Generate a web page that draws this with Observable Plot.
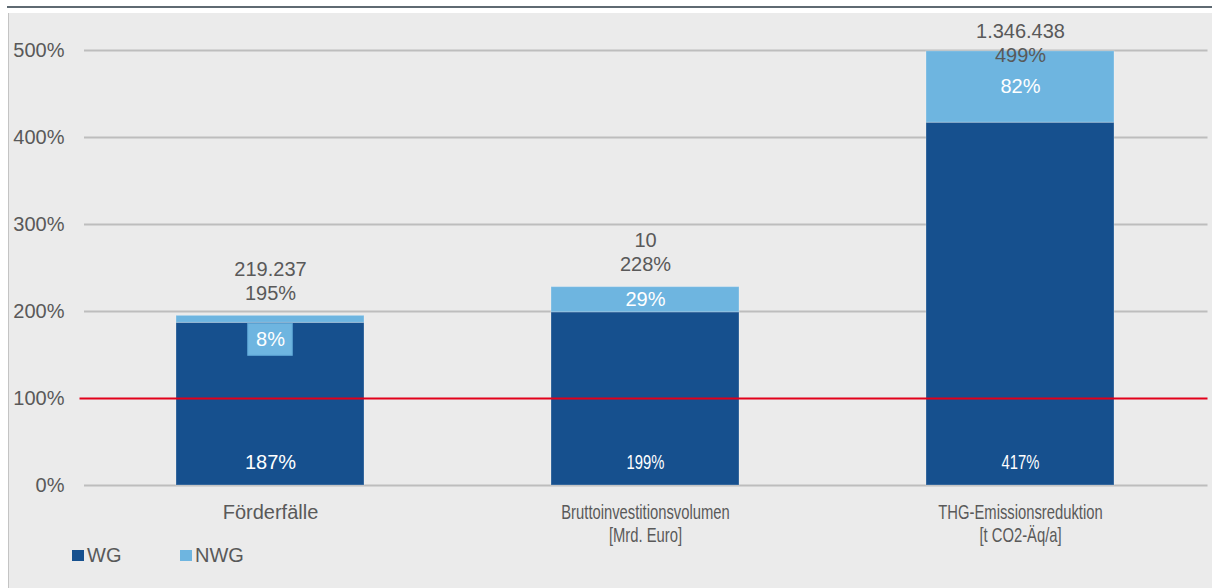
<!DOCTYPE html>
<html>
<head>
<meta charset="utf-8">
<script src="https://cdn.jsdelivr.net/npm/d3@7"></script>
<script src="https://cdn.jsdelivr.net/npm/@observablehq/plot@0.6"></script>
<style>
  html, body { margin: 0; padding: 0; background: #ffffff; }
  body { width: 1212px; height: 588px; position: relative; overflow: hidden;
         font-family: "Liberation Sans", Arial, sans-serif; }
  #rule { position: absolute; left: 7px; top: 6px; width: 1205px; height: 2px; background: #5f6a72; }
  #panel { position: absolute; left: 8px; top: 13px; width: 1204px; height: 575px;
           background: #ebebeb; border-left: 1px solid #c4c4c4; box-sizing: border-box; }
  #chart svg { display: block; }
  .key { position: absolute; top: 531px; height: 22px; display: flex; align-items: center;
         font-size: 20px; color: #595959; }
  .swatch { width: 12px; height: 11px; margin-right: 3px; }
</style>
</head>
<body>
<div id="rule"></div>
<div id="panel">
  <div id="chart"></div>
  <div id="legend"></div>
</div>
<script>
// Categories (multi-line labels use "\n")
const categories = ["Förderfälle", "Bruttoinvestitionsvolumen\n[Mrd. Euro]", "THG-Emissionsreduktion\n[t CO2-Äq/a]"];
// Share of target reached, in percent
const wgShare = [187, 199, 417];
const nwgShare = [8, 29, 82];
const totalShare = [195, 228, 499];
// Absolute totals printed above each column
const absoluteTotals = ["219.237", "10", "1.346.438"];
const series = ["WG", "NWG"];
const yTicks = [0, 100, 200, 300, 400, 500];
const targetLine = [100];

const colors = ["#16508e", "#6eb5e0"];
const textColor = "#595959";
const normalFont = "'Liberation Sans', Arial, sans-serif";
// Marker family for labels that get horizontally condensed after rendering
const condensedFont = "'Liberation Sans', Arial, sans-serif, condensed";
const condenseFactor = 0.74;

const rows = categories.map((c, i) => ({
  category: c, wg: wgShare[i], nwg: nwgShare[i], total: totalShare[i], abs: absoluteTotals[i]
}));
const stacked = categories.flatMap((c, i) => [
  {category: c, series: "WG", value: wgShare[i]},
  {category: c, series: "NWG", value: nwgShare[i]}
]);

const width = 1203, height = 530;
const margin = {top: 37, right: 4.5, bottom: 58, left: 73.5};
const yDomain = [0, 500];
const y = Plot.scale({y: {domain: yDomain, range: [height - margin.bottom, margin.top]}});

// Keep the two-line total label inside the chart area
const totalCap = y.invert(margin.top + 27.5);
// NWG labels that do not fit their segment go below it in a box
const fits = d => y.apply(d.wg) - y.apply(d.wg + d.nwg) >= 24;
const fitted = rows.filter(fits);
const boxed = rows.filter(d => !fits(d));
const wideCols = new Set(categories.slice(1));

const chart = Plot.plot({
  width, height,
  marginTop: margin.top, marginRight: margin.right, marginBottom: margin.bottom, marginLeft: margin.left,
  style: {background: "transparent", color: textColor, fontFamily: normalFont, fontSize: "20px", overflow: "visible"},
  x: {domain: categories, paddingInner: 0.5, paddingOuter: 0.25, axis: null},
  y: {domain: yDomain, axis: null},
  color: {domain: series, range: colors},
  marks: [
    Plot.ruleY(yTicks.filter(t => !targetLine.includes(t)), {stroke: "#bdbdbd", strokeWidth: 2, insetLeft: 1.5}),
    Plot.axisY(yTicks, {tickSize: 0, tickPadding: 18.5, tickFormat: d => d + "%", fontSize: 20, fill: textColor}),
    Plot.barY(stacked, {x: "category", y: "value", fill: "series", order: series,
                        stroke: "#ffffff", strokeOpacity: 0.25, strokeWidth: 1}),
    Plot.ruleY(targetLine, {stroke: "#e2001a", strokeWidth: 2, insetLeft: -3}),
    // WG share inside the dark segment
    Plot.text(rows.filter(d => !wideCols.has(d.category)), {x: "category", y: 0, dy: -23,
      text: d => d.wg + "%", fill: "white", fontSize: 20}),
    Plot.text(rows.filter(d => wideCols.has(d.category)), {x: "category", y: 0, dy: -23,
      text: d => d.wg + "%", fill: "white", fontSize: 20, fontFamily: condensedFont}),
    // NWG share
    Plot.text(fitted, {x: "category", y: d => d.wg + d.nwg / 2,
      text: d => d.nwg + "%", fill: "white", fontSize: 20}),
    Plot.barY(boxed, {x: "category", y1: "wg", y2: "wg", fill: colors[1], stroke: "#5ea6d6", strokeWidth: 1,
      insetLeft: 71.75, insetRight: 71.75, insetTop: 1, insetBottom: -33}),
    Plot.text(boxed, {x: "category", y: "wg", dy: 17,
      text: d => d.nwg + "%", fill: "white", fontSize: 20}),
    // Absolute total and total share above each column
    Plot.text(rows, {x: "category", y: d => Math.min(d.total, totalCap), dy: -35.5, lineAnchor: "middle",
      lineHeight: 1.2, text: d => `${d.abs}\n${d.total}%`, fill: textColor, fontSize: 20}),
    // Category labels
    Plot.text(categories.filter(c => !wideCols.has(c)), {x: d => d, frameAnchor: "bottom", lineAnchor: "top",
      dy: 17, lineHeight: 1.15, text: d => d, fill: textColor, fontSize: 20}),
    Plot.text(categories.filter(c => wideCols.has(c)), {x: d => d, frameAnchor: "bottom", lineAnchor: "top",
      dy: 17, lineHeight: 1.15, text: d => d, fill: textColor, fontSize: 20, fontFamily: condensedFont})
  ]
});
document.getElementById("chart").append(chart);

// Condense the long labels horizontally around their own anchor
chart.querySelectorAll('g[font-family*="condensed"] text').forEach(t => {
  const tr = t.getAttribute("transform");
  if (tr) {
    t.setAttribute("transform", `${tr} scale(${condenseFactor},1)`);
  } else {
    const x = +t.getAttribute("x") || 0;
    t.setAttribute("transform", `translate(${x},0) scale(${condenseFactor},1) translate(${-x},0)`);
  }
});

// Legend below the chart
const legend = document.getElementById("legend");
const legendLeft = [63, 171];
series.forEach((s, i) => {
  const item = document.createElement("div");
  item.className = "key";
  item.style.left = legendLeft[i] + "px";
  const sw = document.createElement("span");
  sw.className = "swatch";
  sw.style.background = colors[i];
  item.append(sw, document.createTextNode(s));
  legend.append(item);
});
</script>
</body>
</html>
